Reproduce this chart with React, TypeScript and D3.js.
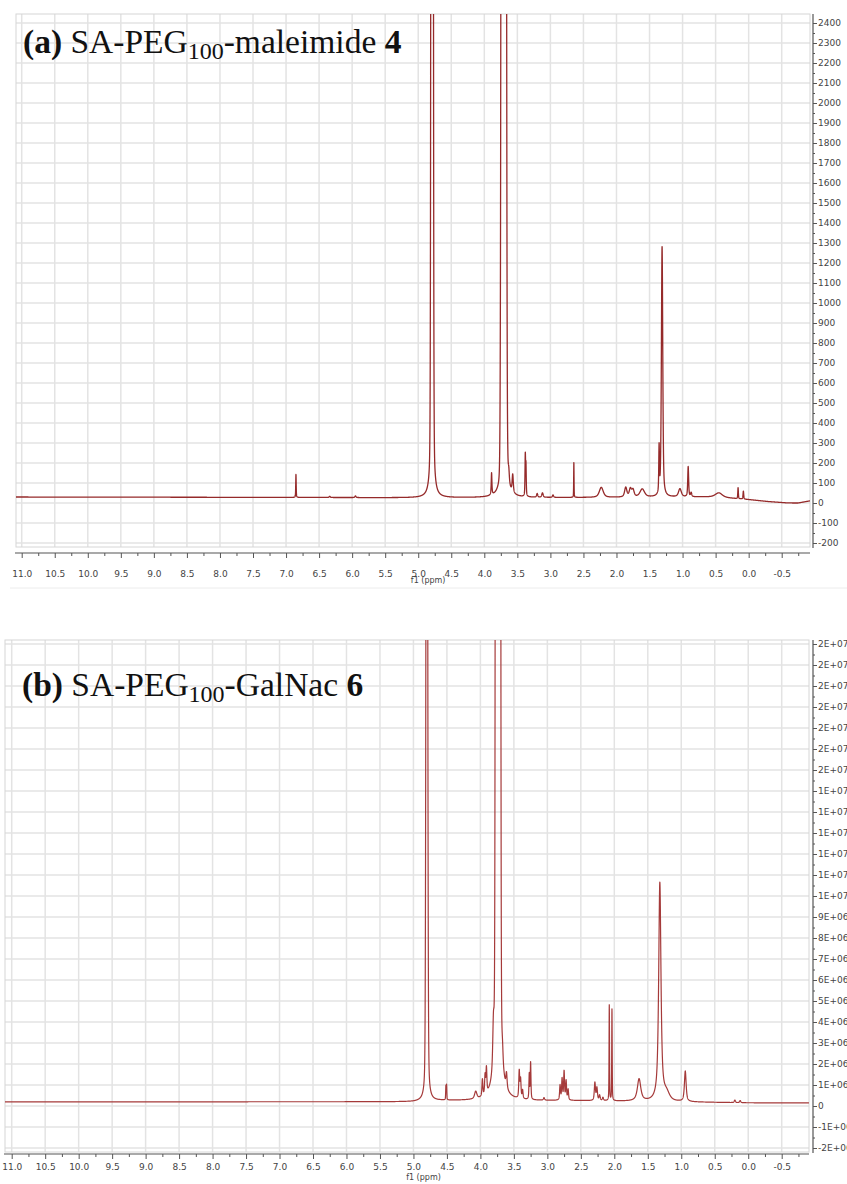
import React, { useEffect, useRef } from 'react';
import * as d3 from 'd3';

// chemical shift ticks (ppm), shared by both spectra
const ppmTicks = [11.0, 10.5, 10.0, 9.5, 9.0, 8.5, 8.0, 7.5, 7.0, 6.5, 6.0, 5.5, 5.0, 4.5, 4.0, 3.5, 3.0, 2.5, 2.0, 1.5, 1.0, 0.5, 0.0, -0.5];

// (a) intensity ticks
const yTicksA = [-200, -100, 0, 100, 200, 300, 400, 500, 600, 700, 800, 900, 1000, 1100, 1200, 1300, 1400, 1500, 1600, 1700, 1800, 1900, 2000, 2100, 2200, 2300, 2400];

// (b) intensity ticks, in units of 1E+06
const yTicksB = [-2, -1, 0, 1, 2, 3, 4, 5, 6, 7, 8, 9, 10, 11, 12, 13, 14, 15, 16, 17, 18, 19, 20, 21, 22];
const yLabelsB = ['-2E+06', '-1E+06', '0', '1E+06', '2E+06', '3E+06', '4E+06', '5E+06', '6E+06', '7E+06', '8E+06', '9E+06',
  '1E+07', '1E+07', '1E+07', '1E+07', '1E+07', '1E+07', '2E+07', '2E+07', '2E+07', '2E+07', '2E+07', '2E+07', '2E+07'];

// peaks: [shift ppm, height, half width ppm, lorentz fraction]
const peaksA = [
  [6.85, 115, 0.004, 0.5],
  [6.34, 6, 0.01, 0.5],
  [5.95, 8, 0.01, 0.5],
  [4.79, 20000, 0.012, 0.1],
  [3.89, 110, 0.006, 0.8],
  [3.707, 60000, 0.02, 0.02],
  [3.665, 700, 0.008, 0.5],
  [3.63, 60, 0.01, 0.7],
  [3.57, 90, 0.01, 0.7],
  [3.38, 200, 0.005, 0.6],
  [3.37, 150, 0.005, 0.6],
  [3.2, 18, 0.01, 0.5],
  [3.12, 22, 0.012, 0.5],
  [2.96, 12, 0.01, 0.5],
  [2.645, 175, 0.003, 0.5],
  [2.23, 50, 0.035, 0.6],
  [1.86, 48, 0.02, 0.6],
  [1.79, 40, 0.02, 0.6],
  [1.75, 35, 0.02, 0.6],
  [1.61, 40, 0.04, 0.6],
  [1.355, 230, 0.006, 0.5],
  [1.31, 1250, 0.012, 0.5],
  [1.04, 40, 0.025, 0.6],
  [0.915, 150, 0.008, 0.6],
  [0.87, 20, 0.01, 0.6],
  [0.45, 22, 0.06, 0.6],
  [0.16, 55, 0.005, 0.5],
  [0.08, 40, 0.006, 0.5],
];
// baseline drift of (a): [ppm, intensity]
const baselineA = [[11.2, 30], [7, 28], [5, 26], [3, 27], [2, 28], [1, 30], [0.5, 30], [0, 17], [-0.3, 7], [-0.6, 0], [-0.75, 0], [-0.95, 12]];

const peaksB = [
  [4.8, 60, 0.012, 0.2],
  [4.515, 0.65, 0.004, 0.5],
  [4.505, 0.7, 0.004, 0.5],
  [4.07, 0.35, 0.02, 0.6],
  [3.97, 0.8, 0.008, 0.6],
  [3.93, 0.9, 0.008, 0.6],
  [3.91, 1.2, 0.008, 0.6],
  [3.805, 2.0, 0.012, 0.6],
  [3.737, 2000, 0.0165, 0.02],
  [3.67, 0.6, 0.01, 0.6],
  [3.61, 0.7, 0.01, 0.6],
  [3.42, 1.3, 0.008, 0.6],
  [3.4, 0.9, 0.008, 0.6],
  [3.37, 0.4, 0.008, 0.6],
  [3.27, 1.2, 0.006, 0.6],
  [3.25, 1.75, 0.006, 0.6],
  [3.05, 0.12, 0.01, 0.6],
  [2.81, 0.7, 0.008, 0.6],
  [2.78, 1.0, 0.008, 0.6],
  [2.75, 1.35, 0.008, 0.6],
  [2.72, 0.9, 0.008, 0.6],
  [2.69, 0.5, 0.008, 0.6],
  [2.29, 0.85, 0.01, 0.6],
  [2.26, 0.6, 0.01, 0.6],
  [2.22, 0.25, 0.01, 0.6],
  [2.17, 0.15, 0.01, 0.6],
  [2.075, 4.55, 0.004, 0.5],
  [2.035, 4.35, 0.004, 0.5],
  [1.63, 1.05, 0.03, 0.8],
  [1.32, 10.4, 0.02, 0.8],
  [1.22, 0.35, 0.05, 0.6],
  [0.94, 1.45, 0.015, 0.7],
  [0.2, 0.12, 0.01, 0.5],
  [0.12, 0.1, 0.01, 0.5],
];
const baselineB = [[11.2, 0.2], [5, 0.2], [4.6, 0.25], [2.5, 0.25], [0, 0.15], [-0.95, 0.15]];

const panels = [
  {
    id: 'a',
    plot: { left: 16, right: 810, top: 14, bottom: 547 },
    xRange: [21.7, 781.7],
    yDomain: [0, 2400], yRange: [503, 23],
    axisX: 553, labelPad: 13, unitDy: 30, axisY: 813,
    yTicks: yTicksA, yLabels: yTicksA.map(String), yMinor: yTicksA.map(t => t + 50).slice(0, -1),
    peaks: peaksA, baseline: baselineA,
    color: '#952a2a', lineWidth: 1.3,
  },
  {
    id: 'b',
    plot: { left: 5, right: 809, top: 640, bottom: 1152 },
    xRange: [11.7, 781.7],
    yDomain: [0, 22], yRange: [1106, 644],
    axisX: 1154, labelPad: 5, unitDy: 26, axisY: 813,
    yTicks: yTicksB, yLabels: yLabelsB, yMinor: yTicksB.map(t => t + 0.5).slice(0, -1),
    peaks: peaksB, baseline: baselineB,
    color: '#a53a3a', lineWidth: 1.2,
  },
];

const lineShape = (ppm, [c, h, w, eta]) => {
  const r = (ppm - c) / w;
  return h * ((1 - eta) * Math.exp(-Math.LN2 * r * r) + eta / (1 + r * r));
};

const Spectrum = ({ cfg }) => {
  const ref = useRef(null);

  useEffect(() => {
    const g = d3.select(ref.current);
    g.selectAll('*').remove();
    const { plot } = cfg;

    const x = d3.scaleLinear().domain([11, -0.5]).range(cfg.xRange);
    const y = d3.scaleLinear().domain(cfg.yDomain).range(cfg.yRange);
    const base = d3.scaleLinear()
      .domain(cfg.baseline.map(d => d[0]))
      .range(cfg.baseline.map(d => d[1]));

    // grid
    const grid = g.append('g').attr('stroke', '#e3e3e3').attr('stroke-width', 1.5);
    grid.selectAll('.vg')
      .data(ppmTicks.filter(t => x(t) > plot.left && x(t) < plot.right))
      .enter().append('line')
      .attr('x1', d => x(d)).attr('x2', d => x(d))
      .attr('y1', plot.top).attr('y2', plot.bottom);
    grid.selectAll('.hg')
      .data(cfg.yTicks.filter(t => y(t) > plot.top && y(t) < plot.bottom))
      .enter().append('line')
      .attr('x1', plot.left).attr('x2', plot.right)
      .attr('y1', d => y(d)).attr('y2', d => y(d));
    g.append('rect')
      .attr('x', plot.left).attr('y', plot.top)
      .attr('width', plot.right - plot.left).attr('height', plot.bottom - plot.top)
      .attr('fill', 'none').attr('stroke', '#d6d6d6').attr('stroke-width', 1);

    // spectrum
    const lo = x.invert(plot.right), hi = x.invert(plot.left);
    const pts = [];
    for (let p = hi; p >= lo; p -= 0.001) {
      let v = base(p);
      cfg.peaks.forEach(pk => { v += lineShape(p, pk); });
      pts.push([p, v]);
    }
    g.append('clipPath').attr('id', 'clip-' + cfg.id)
      .append('rect')
      .attr('x', plot.left).attr('y', plot.top)
      .attr('width', plot.right - plot.left).attr('height', plot.bottom - plot.top);
    const line = d3.line().x(d => x(d[0])).y(d => y(d[1]));
    g.append('path')
      .datum(pts)
      .attr('clip-path', 'url(#clip-' + cfg.id + ')')
      .attr('fill', 'none')
      .attr('stroke', cfg.color)
      .attr('stroke-width', cfg.lineWidth)
      .attr('stroke-linejoin', 'round')
      .attr('d', line);

    // x axis
    const xAxis = g.append('g').attr('transform', 'translate(0,' + cfg.axisX + ')');
    xAxis.append('line')
      .attr('x1', plot.left - 1).attr('x2', plot.right)
      .attr('stroke', '#555').attr('stroke-width', 1.2);
    xAxis.call(d3.axisBottom(x).tickValues(ppmTicks).tickSize(5).tickPadding(cfg.labelPad).tickFormat(d => d.toFixed(1)))
      .call(a => a.select('.domain').remove());
    xAxis.append('g')
      .call(d3.axisBottom(x).tickValues(ppmTicks.map(t => t - 0.25)).tickSize(3).tickFormat(() => ''))
      .call(a => a.select('.domain').remove());
    xAxis.selectAll('line').attr('stroke', '#555');
    xAxis.selectAll('text').attr('fill', '#444').attr('font-size', 9).attr('font-family', "'DejaVu Sans', sans-serif");
    xAxis.append('text')
      .attr('x', x(4.85)).attr('y', cfg.unitDy)
      .attr('text-anchor', 'middle')
      .attr('font-size', 8).attr('font-family', "'DejaVu Sans', sans-serif").attr('fill', '#444')
      .text('f1 (ppm)');

    // y axis on the right
    const yAxis = g.append('g').attr('transform', 'translate(' + cfg.axisY + ',0)');
    yAxis.append('line')
      .attr('y1', plot.top).attr('y2', plot.bottom + 1)
      .attr('stroke', '#555').attr('stroke-width', 1.2);
    yAxis.call(d3.axisRight(y).tickValues(cfg.yTicks).tickSize(4).tickPadding(1)
      .tickFormat((d, i) => cfg.yLabels[i]))
      .call(a => a.select('.domain').remove());
    yAxis.append('g')
      .call(d3.axisRight(y).tickValues(cfg.yMinor).tickSize(2).tickFormat(() => ''))
      .call(a => a.select('.domain').remove());
    yAxis.selectAll('line').attr('stroke', '#555');
    yAxis.selectAll('text').attr('fill', '#444').attr('font-size', 9).attr('font-family', "'DejaVu Sans', sans-serif");
  }, [cfg]);

  return <g ref={ref} />;
};

const serif = "'Liberation Serif', 'Times New Roman', serif";

export default function App() {
  return (
    <svg width={847} height={1184} style={{ position: 'absolute', left: 0, top: 0, background: '#fff' }}>
      <rect width={847} height={1184} fill="#fff" />
      {/* faint edge of the next crop below panel (a) */}
      <line x1={10} x2={847} y1={588} y2={588} stroke="#ececec" strokeWidth={1} />
      {panels.map(p => <Spectrum key={p.id} cfg={p} />)}
      <text x={23} y={53} fontFamily={serif} fontSize={33.5} fill="#111">
        <tspan fontWeight="bold">(a)</tspan>
        <tspan>{' SA-PEG'}</tspan>
        <tspan fontSize={24} dy={6}>100</tspan>
        <tspan dy={-6}>{'-maleimide '}</tspan>
        <tspan fontWeight="bold">4</tspan>
      </text>
      <text x={22} y={696} fontFamily={serif} fontSize={33.5} fill="#111">
        <tspan fontWeight="bold">(b)</tspan>
        <tspan>{' SA-PEG'}</tspan>
        <tspan fontSize={24} dy={6}>100</tspan>
        <tspan dy={-6}>{'-GalNac '}</tspan>
        <tspan fontWeight="bold">6</tspan>
      </text>
    </svg>
  );
}
